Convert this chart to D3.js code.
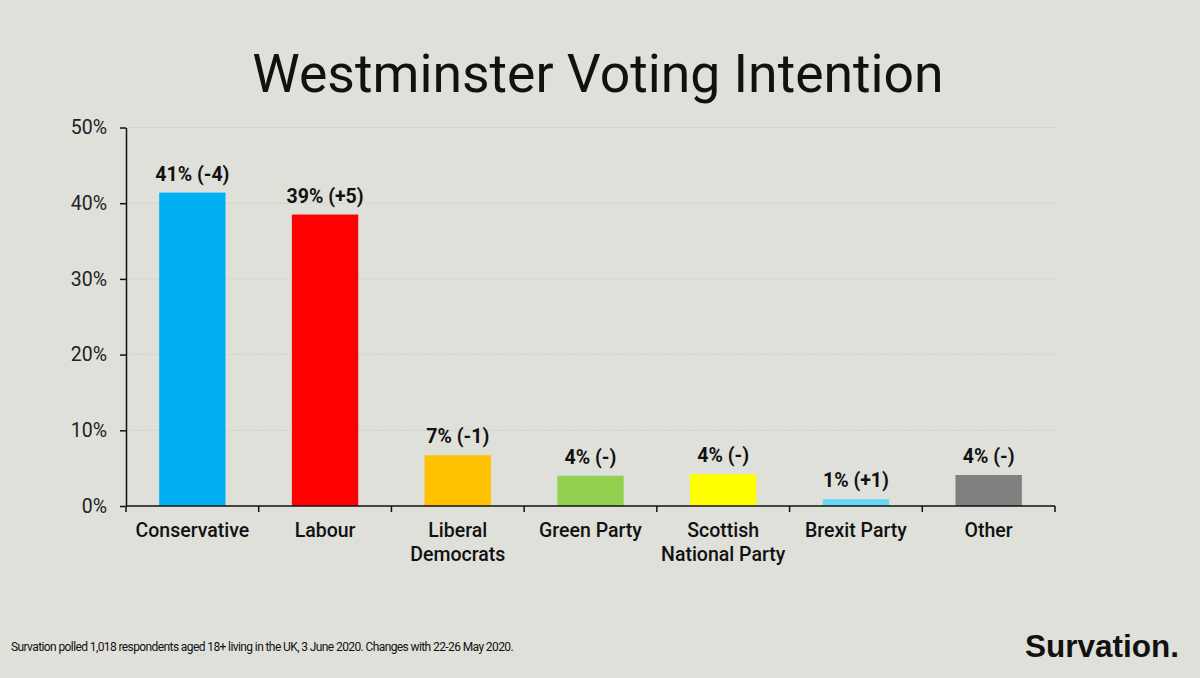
<!DOCTYPE html>
<html><head><meta charset="utf-8">
<script src="https://cdn.jsdelivr.net/npm/d3@7"></script>
<style>
html,body{margin:0;padding:0;background:#e0e0da;}
svg{display:block;}
</style></head>
<body>
<svg id="chart" width="1200" height="678"></svg>
<script>
const categories = ["Conservative","Labour","Liberal Democrats","Green Party","Scottish National Party","Brexit Party","Other"];
const categoryLines = [["Conservative"],["Labour"],["Liberal","Democrats"],["Green Party"],["Scottish","National Party"],["Brexit Party"],["Other"]];
const values = [41.4, 38.5, 6.7, 4.0, 4.2, 0.9, 4.1];
const labels = ["41% (-4)","39% (+5)","7% (-1)","4% (-)","4% (-)","1% (+1)","4% (-)"];
const colors = ["#00b0f0","#ff0000","#ffc000","#92d050","#ffff00","#66d9f8","#808080"];
const yTicks = [0,10,20,30,40,50];

const svg = d3.select("#chart");
const W = 1200, H = 678;
svg.append("rect").attr("width",W).attr("height",H).attr("fill","#e0e0da");

const x = d3.scaleBand().domain(categories).range([126,1055]).paddingInner(0.5).paddingOuter(0.25);
const y = d3.scaleLinear().domain([0,50]).range([506,127.5]);
const font = "Roboto, 'DejaVu Sans', sans-serif";

// title
svg.append("text").attr("x",598).attr("y",92).attr("text-anchor","middle")
  .attr("font-family",font).attr("font-size",53.5).attr("fill","#111")
  .text("Westminster Voting Intention");

// gridlines
svg.append("g").selectAll("line").data(yTicks.filter(d=>d>0)).join("line")
  .attr("x1",127).attr("x2",1055).attr("y1",d=>y(d)).attr("y2",d=>y(d))
  .attr("stroke","#cfd0cb").attr("stroke-width",1).attr("stroke-dasharray","2,1");

// bars
svg.append("g").selectAll("rect").data(categories).join("rect")
  .attr("x",d=>x(d)).attr("width",x.bandwidth())
  .attr("y",(d,i)=>y(values[i])).attr("height",(d,i)=>y(0)-y(values[i]))
  .attr("fill",(d,i)=>colors[i]);

// value labels
svg.append("g").selectAll("text").data(categories).join("text")
  .attr("x",d=>x(d)+x.bandwidth()/2).attr("y",(d,i)=>y(values[i])-12)
  .attr("text-anchor","middle").attr("font-family",font).attr("font-weight","bold")
  .attr("font-size",19.5).attr("fill","#111").text((d,i)=>labels[i]);

// y axis
const yAxis = d3.axisLeft(y).tickValues(yTicks).tickFormat(d=>d+"%").tickSize(6).tickSizeOuter(0);
const gy = svg.append("g").attr("transform","translate(126,0)").call(yAxis);
gy.select(".domain").attr("stroke","#111").attr("stroke-width",1.5);
gy.selectAll(".tick line").attr("stroke","#111").attr("stroke-width",1.5);
gy.selectAll(".tick text").attr("font-family",font).attr("font-size",19.5).attr("fill","#222").attr("x",-19);

// x axis
const gx = svg.append("g").attr("transform","translate(0,506)");
gx.append("line").attr("x1",126).attr("x2",1055).attr("stroke","#111").attr("stroke-width",1.5);
const bounds = d3.range(categories.length+1).map(i=>126 + i*(1055-126)/categories.length);
gx.selectAll(".tk").data(bounds).join("line").attr("class","tk")
  .attr("x1",d=>d).attr("x2",d=>d).attr("y1",0).attr("y2",6).attr("stroke","#111").attr("stroke-width",1.5);
const xl = gx.selectAll(".xl").data(categories).join("text").attr("class","xl")
  .attr("x",d=>x(d)+x.bandwidth()/2).attr("y",31).attr("text-anchor","middle")
  .attr("font-family",font).attr("font-weight",500).attr("font-size",19.5).attr("fill","#111");
xl.each(function(d,i){
  const t = d3.select(this);
  categoryLines[i].forEach((ln,j)=>{
    t.append("tspan").attr("x",x(d)+x.bandwidth()/2).attr("dy",j===0?0:24).text(ln);
  });
});

// footnote
svg.append("text").attr("x",11).attr("y",651).attr("font-family",font).attr("font-size",12)
  .attr("fill","#111").attr("letter-spacing",-0.6)
  .text("Survation polled 1,018 respondents aged 18+ living in the UK, 3 June 2020. Changes with 22-26 May 2020.");

// logo
svg.append("text").attr("x",1179).attr("y",657).attr("text-anchor","end")
  .attr("font-family","'Liberation Sans', Arial, sans-serif").attr("font-weight","bold")
  .attr("font-size",31.5).attr("fill","#111").text("Survation.");
</script>
</body></html>
